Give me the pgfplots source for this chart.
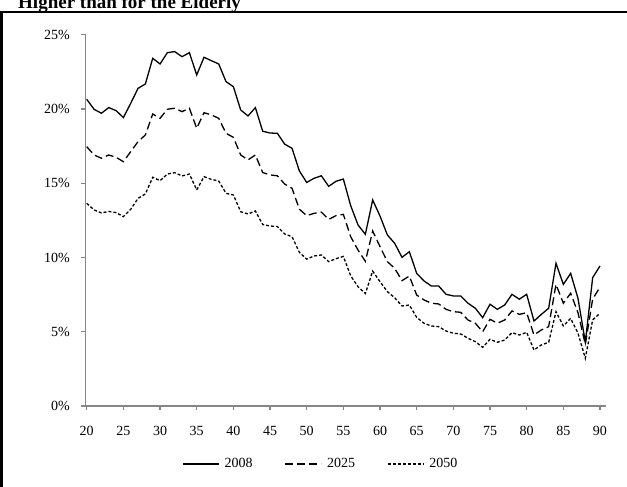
\documentclass[border=0pt]{standalone}
\usepackage{fontspec}
\setmainfont{Liberation Serif}
\usepackage{pgfplots}
\usepackage{pgfplotstable}
\pgfplotsset{compat=1.18}
\definecolor{axgray}{RGB}{134,134,134}
\pgfplotstableread{
age a b c
20 20.65 17.46 13.65
21 19.98 16.90 13.20
22 19.71 16.68 13.00
23 20.09 16.90 13.10
24 19.89 16.75 13.02
25 19.42 16.45 12.75
26 20.38 17.13 13.24
27 21.39 17.80 13.98
28 21.68 18.25 14.28
29 23.41 19.66 15.40
30 23.03 19.37 15.17
31 23.79 19.98 15.62
32 23.86 20.05 15.71
33 23.52 19.82 15.49
34 23.79 20.05 15.62
35 22.29 18.70 14.55
36 23.48 19.75 15.44
37 23.25 19.60 15.26
38 23.03 19.37 15.15
39 21.84 18.36 14.32
40 21.50 18.09 14.21
41 19.93 16.90 13.08
42 19.53 16.57 12.93
43 20.09 16.90 13.13
44 18.50 15.72 12.22
45 18.38 15.56 12.12
46 18.36 15.50 12.08
47 17.63 14.94 11.58
48 17.35 14.66 11.40
49 15.83 13.25 10.35
50 15.05 12.82 9.89
51 15.33 12.97 10.10
52 15.50 13.05 10.17
53 14.79 12.56 9.72
54 15.13 12.82 9.92
55 15.28 12.90 10.07
56 13.49 11.40 8.77
57 12.19 10.50 8.03
58 11.56 9.74 7.57
59 13.87 11.78 9.08
60 12.79 10.73 8.37
61 11.52 9.72 7.70
62 10.95 9.27 7.29
63 10.01 8.44 6.73
64 10.39 8.75 6.80
65 8.93 7.47 5.97
66 8.42 7.14 5.57
67 8.08 6.92 5.39
68 8.08 6.87 5.34
69 7.52 6.51 5.05
70 7.41 6.35 4.90
71 7.41 6.31 4.85
72 6.92 5.79 4.56
73 6.58 5.57 4.33
74 5.95 5.00 3.95
75 6.85 5.84 4.49
76 6.51 5.57 4.29
77 6.80 5.79 4.44
78 7.52 6.40 4.94
79 7.19 6.17 4.78
80 7.52 6.28 4.96
81 5.72 4.78 3.77
82 6.17 5.12 4.11
83 6.58 5.34 4.29
84 9.61 8.19 6.35
85 8.19 6.92 5.39
86 8.93 7.59 5.90
87 7.25 6.28 4.90
88 4.30 4.15 3.21
89 8.64 7.20 5.80
90 9.43 8.00 6.24
}\datatable
\begin{document}
\begin{tikzpicture}[x=1pt,y=1pt]
\begin{axis}[
  at={(85.7pt,81pt)}, anchor=south west,
  scale only axis, width=520.3pt, height=371.3pt,
  xmin=19.86, xmax=90.82, ymin=0, ymax=25,
  axis x line=bottom, axis y line=left,
  axis line style={-, draw=axgray, line width=1.4pt},
  tick style={draw=axgray, line width=1.2pt},
  tick align=outside, major tick length=4.5pt,
  xtick={20,25,...,90}, ytick={0,5,...,25},
  minor tick num=0,
  /pgf/number format/assume math mode=true,
  yticklabel={\pgfmathprintnumber{\tick}\%},
  ticklabel style={font=\fontsize{14}{16}\selectfont},
  yticklabel style={xshift=-8pt},
  xticklabel style={yshift=-12pt},
  legend style={at={(0.452,-0.156)}, anchor=center, legend columns=-1, draw=none, fill=none,
    font=\fontsize{14}{16}\selectfont,
    /tikz/every odd column/.style={column sep=3pt},
    /tikz/every even column/.style={column sep=30pt}},
  legend image code/.code={\draw[#1] (0pt,0pt) -- (36pt,0pt);},
  clip=false,
]
\addplot[black, line width=1.3pt] table[x=age, y=a] {\datatable};
\addlegendentry{2008}
\addplot[black, line width=1.3pt, dash pattern=on 8pt off 4pt] table[x=age, y=b] {\datatable};
\addlegendentry{2025}
\addplot[black, line width=1.3pt, dash pattern=on 3pt off 2pt] table[x=age, y=c] {\datatable};
\addlegendentry{2050}
\end{axis}
\node[anchor=base west, font=\bfseries\fontsize{19}{22}\selectfont, inner sep=0pt] at (18pt,478pt) {Higher than for the Elderly};
\draw[black, line width=2.5pt] (0pt,475pt) -- (627pt,475pt);
\draw[black, line width=2.5pt] (1.5pt,476pt) -- (1.5pt,0pt);
\pgfresetboundingbox
\useasboundingbox (0pt,0pt) rectangle (627pt,487pt);
\end{tikzpicture}
\end{document}
